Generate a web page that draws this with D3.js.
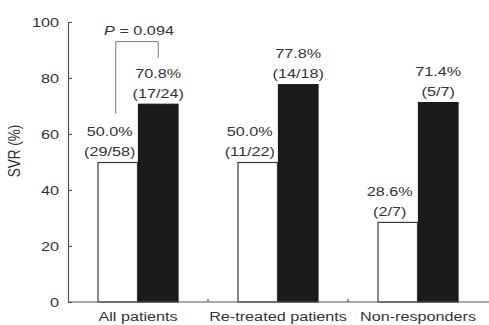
<!DOCTYPE html>
<html>
<head>
<meta charset="utf-8">
<script src="https://cdn.jsdelivr.net/npm/d3@7"></script>
<style>
  html, body { margin: 0; padding: 0; background: #ffffff; }
  svg { display: block; }
  text { font-family: "Liberation Sans", Arial, Helvetica, sans-serif; fill: #333333; }
</style>
</head>
<body>
<svg id="chart" width="489" height="325"></svg>
<script>
// SVR rates by patient group, two treatment arms
const categories = ["All patients", "Re-treated patients", "Non-responders"];
const seriesKeys = ["open", "filled"];
const openValues = [50.0, 50.0, 28.6];
const filledValues = [70.8, 77.8, 71.4];
const openCounts = ["(29/58)", "(11/22)", "(2/7)"];
const filledCounts = ["(17/24)", "(14/18)", "(5/7)"];
const yTicks = [0, 20, 40, 60, 80, 100];
const yTitle = "SVR (%)";
const pLabel = "0.094";

const FONT = 13.5;     // glyph size
const STRETCH = 1.2;   // horizontal widening of all lettering

const svg = d3.select("#chart");

const x = d3.scaleBand().domain(categories).range([68, 488]).paddingInner(0).paddingOuter(0);
const xs = d3.scaleBand().domain(seriesKeys).range([0, x.bandwidth()]).paddingInner(0).paddingOuter(0.728);
const y = d3.scaleLinear().domain([0, 100]).range([302, 22]);

const rows = categories.map((c, i) => ({
  cat: c,
  bars: [
    { key: "open", value: openValues[i], count: openCounts[i] },
    { key: "filled", value: filledValues[i], count: filledCounts[i] }
  ]
}));

function stretchedText(sel, tx, ty) {
  return sel.attr("transform", `translate(${tx},${ty}) scale(${STRETCH},1)`);
}

// Bars
const groups = svg.append("g").selectAll("g.grp")
  .data(rows).join("g")
  .attr("class", "grp")
  .attr("transform", d => `translate(${x(d.cat)},0)`);

groups.selectAll("rect")
  .data(d => d.bars).join("rect")
  .attr("x", d => xs(d.key) + 0.5)
  .attr("y", d => y(d.value) + 0.5)
  .attr("width", xs.bandwidth() - 1)
  .attr("height", d => y(0) - y(d.value) - 0.5)
  .attr("fill", d => d.key === "filled" ? "#1b1b1b" : "#ffffff")
  .attr("stroke", d => d.key === "filled" ? "#1b1b1b" : "#3a3a3a")
  .attr("stroke-width", 1.2);

// Value labels: percentage over count
groups.each(function (d) {
  const g = d3.select(this);
  d.bars.forEach(b => {
    const cx = xs(b.key) + xs.bandwidth() / 2 + (b.key === "open" ? -8 : 0);
    const top = y(b.value);
    stretchedText(g.append("text"), cx, top - 26)
      .attr("text-anchor", "middle").attr("font-size", FONT)
      .text(b.value.toFixed(1) + "%");
    stretchedText(g.append("text"), cx, top - 6)
      .attr("text-anchor", "middle").attr("font-size", FONT)
      .text(b.count);
  });
});

// Y axis with inward ticks
const yAxis = svg.append("g")
  .attr("transform", "translate(68,0)")
  .call(d3.axisLeft(y).tickValues(yTicks).tickSizeInner(-4).tickSizeOuter(0).tickFormat(d3.format("d")));
yAxis.select(".domain").attr("stroke", "#555555").attr("stroke-width", 1.2);
yAxis.selectAll(".tick line").attr("stroke", "#555555").attr("stroke-width", 1.2);
yAxis.selectAll(".tick text")
  .attr("x", null)
  .attr("font-size", FONT)
  .attr("font-family", null)
  .attr("fill", "#333333")
  .attr("transform", `translate(-9,0) scale(${STRETCH},1)`);

// Y title
svg.append("text")
  .attr("transform", `translate(20,151) rotate(-90) scale(1,${STRETCH})`)
  .attr("text-anchor", "middle")
  .attr("font-size", FONT)
  .text(yTitle);

// X axis baseline with small separators between groups
svg.append("line")
  .attr("x1", 68).attr("x2", 489)
  .attr("y1", y(0)).attr("y2", y(0))
  .attr("stroke", "#555555").attr("stroke-width", 1.2);
svg.append("g").selectAll("line")
  .data(categories.slice(1)).join("line")
  .attr("x1", d => x(d)).attr("x2", d => x(d))
  .attr("y1", y(0)).attr("y2", y(0) - 3)
  .attr("stroke", "#555555").attr("stroke-width", 1.2);
svg.append("g").selectAll("text")
  .data(categories).join("text")
  .attr("transform", d => `translate(${x(d) + x.bandwidth() / 2},321) scale(${STRETCH},1)`)
  .attr("text-anchor", "middle")
  .attr("font-size", FONT)
  .text(d => d);

// Significance bracket between the two "All patients" bars
const g0 = x(categories[0]);
const bx1 = g0 + xs("open") + xs.bandwidth() / 2 - 2;
const bx2 = g0 + xs("filled") + xs.bandwidth() / 2;
const bTop = y(93);
const bLeft = y(openValues[0]) - 48;
const bRight = y(filledValues[0]) - 46;
svg.append("path")
  .attr("d", `M${bx1},${bLeft}V${bTop}H${bx2}V${bRight}`)
  .attr("fill", "none")
  .attr("stroke", "#7a7a7a")
  .attr("stroke-width", 1);

const pText = stretchedText(svg.append("text"), (bx1 + bx2) / 2 + 2, 35)
  .attr("text-anchor", "middle")
  .attr("font-size", FONT);
pText.append("tspan").attr("font-style", "italic").text("P");
pText.append("tspan").text(" = " + pLabel);
</script>
</body>
</html>
